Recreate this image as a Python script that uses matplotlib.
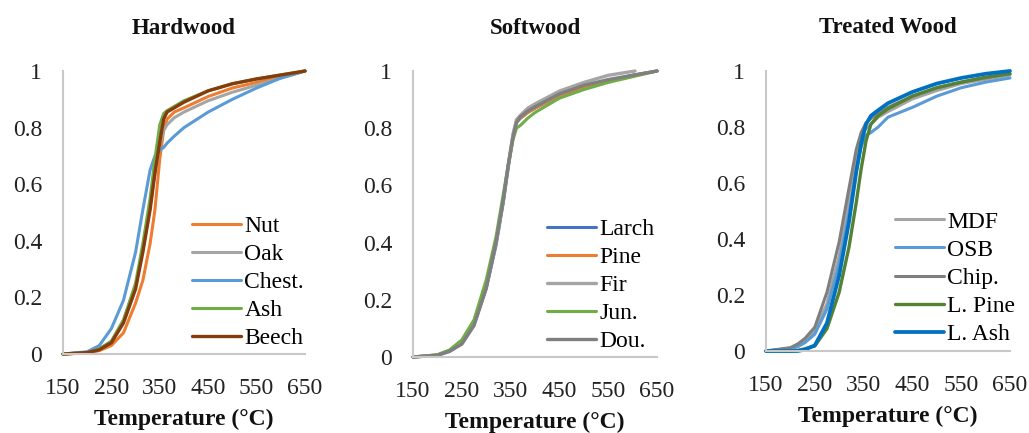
import matplotlib
matplotlib.use("Agg")
import matplotlib.pyplot as plt

# Hardwood
hw_temp = [150, 200, 225, 250, 275, 300, 315, 330, 340, 350, 358, 365, 380, 400, 450, 500, 550, 600, 650]
hw_nut = [0, .004, .012, .03, .075, .18, .26, .39, .51, .69, .79, .83, .855, .87, .91, .94, .96, .98, 1.0]
hw_oak = [0, .006, .018, .045, .12, .24, .37, .52, .64, .74, .79, .81, .835, .855, .895, .925, .95, .975, 1.0]
hw_chest = [0, .008, .03, .09, .19, .36, .51, .65, .70, .72, .73, .745, .77, .80, .855, .90, .94, .975, 1.0]
hw_ash = [0, .005, .018, .045, .12, .25, .39, .55, .69, .81, .85, .86, .875, .895, .93, .955, .972, .986, 1.0]
hw_beech = [0, .005, .015, .04, .11, .23, .36, .51, .64, .75, .83, .855, .87, .89, .93, .955, .972, .986, 1.0]

# Softwood
sw_temp = [150, 200, 225, 250, 275, 300, 320, 335, 345, 355, 362, 370, 385, 400, 450, 500, 550, 600, 650]
sw_fir_temp = [150, 200, 225, 250, 275, 300, 320, 335, 345, 355, 362, 370, 385, 400, 450, 500, 550, 605]
sw_larch = [0, .006, .02, .05, .115, .24, .39, .54, .66, .77, .82, .835, .855, .87, .915, .945, .965, .985, 1.0]
sw_pine = [0, .007, .022, .052, .12, .25, .40, .55, .67, .78, .825, .835, .855, .87, .915, .945, .967, .985, 1.0]
sw_fir = [0, .007, .02, .05, .115, .245, .40, .55, .67, .78, .83, .845, .87, .885, .93, .96, .985, 1.0]
sw_jun = [0, .008, .025, .06, .13, .27, .42, .57, .67, .76, .80, .81, .835, .855, .905, .935, .96, .98, 1.0]
sw_dou = [0, .006, .02, .045, .11, .24, .40, .55, .67, .77, .82, .84, .86, .875, .92, .95, .97, .985, 1.0]

# Treated wood
tw_temp = [150, 200, 215, 230, 250, 275, 300, 320, 335, 345, 355, 365, 380, 400, 450, 500, 550, 600, 650]
tw_mdf = [0, .01, .02, .035, .07, .17, .34, .53, .68, .77, .795, .81, .835, .855, .90, .93, .955, .97, .985]
tw_osb = [0, .008, .015, .03, .06, .15, .31, .49, .64, .73, .77, .78, .80, .835, .87, .91, .94, .96, .975]
tw_chip = [0, .012, .025, .045, .085, .21, .39, .58, .72, .78, .815, .83, .85, .87, .91, .94, .96, .975, .99]
tw_lpine = [0, 0, .002, .008, .018, .08, .21, .37, .53, .65, .75, .81, .84, .865, .91, .94, .96, .978, .99]
tw_lash = [0, 0, 0, .005, .02, .10, .27, .46, .64, .74, .81, .84, .86, .885, .925, .955, .975, .99, 1.0]

x_ticks = [150, 250, 350, 450, 550, 650]
y_ticks = [0, 0.2, 0.4, 0.6, 0.8, 1]
y_labels = ["0", "0.2", "0.4", "0.6", "0.8", "1"]

plt.rcParams['font.family'] = ['Liberation Serif', 'DejaVu Serif']

fig = plt.figure(figsize=(10.29, 4.33), dpi=100)

panels = [
    ("Hardwood", [0.0612, 0.1824, 0.2352, 0.6536], (0.535, 0.49),
     [(hw_temp, hw_nut, "Nut", "#ED7D31", 2.2),
      (hw_temp, hw_oak, "Oak", "#A5A5A5", 2.2),
      (hw_temp, hw_chest, "Chest.", "#5B9BD5", 2.2),
      (hw_temp, hw_ash, "Ash", "#70AD47", 2.2),
      (hw_temp, hw_beech, "Beech", "#843C0C", 2.4)]),
    ("Softwood", [0.4014, 0.1755, 0.2371, 0.6605], (0.55, 0.485),
     [(sw_temp, sw_larch, "Larch", "#4472C4", 2.2),
      (sw_temp, sw_pine, "Pine", "#ED7D31", 2.2),
      (sw_fir_temp, sw_fir, "Fir", "#A5A5A5", 2.4),
      (sw_temp, sw_jun, "Jun.", "#70AD47", 2.2),
      (sw_temp, sw_dou, "Dou.", "#7F7F7F", 2.4)]),
    ("Treated Wood", [0.7444, 0.1894, 0.2371, 0.6467], (0.53, 0.5),
     [(tw_temp, tw_mdf, "MDF", "#A5A5A5", 2.2),
      (tw_temp, tw_osb, "OSB", "#5B9BD5", 2.2),
      (tw_temp, tw_chip, "Chip.", "#7F7F7F", 2.2),
      (tw_temp, tw_lpine, "L. Pine", "#548235", 2.4),
      (tw_temp, tw_lash, "L. Ash", "#0070C0", 2.7)]),
]

for title, rect, leg_pos, series in panels:
    ax = fig.add_axes(rect)
    for t, v, name, color, lw in series:
        ax.plot(t, v, color=color, lw=lw, label=name, clip_on=False,
                solid_capstyle='round')
    ax.set_xlim(150, 650)
    ax.set_ylim(0, 1)
    ax.set_xticks(x_ticks)
    ax.set_yticks(y_ticks)
    ax.set_yticklabels(y_labels)
    ax.tick_params(length=0, labelsize=17, colors='#222222')
    ax.tick_params(axis='x', pad=17)
    ax.tick_params(axis='y', pad=15)
    for side in ['top', 'right']:
        ax.spines[side].set_visible(False)
    for side in ['left', 'bottom']:
        ax.spines[side].set_color('#C8C8C8')
        ax.spines[side].set_linewidth(1.5)
    ax.set_title(title, fontsize=16.5, fontweight='bold', pad=27, color='#111111')
    ax.set_xlabel("Temperature (°C)", fontsize=17, fontweight='bold',
                  labelpad=7, color='#111111')
    ax.legend(loc='upper left', bbox_to_anchor=leg_pos, frameon=False,
              fontsize=17, handlelength=2.05, handletextpad=0.15,
              labelspacing=0.28, borderaxespad=0, borderpad=0)

fig.savefig("out.png", dpi=100)
